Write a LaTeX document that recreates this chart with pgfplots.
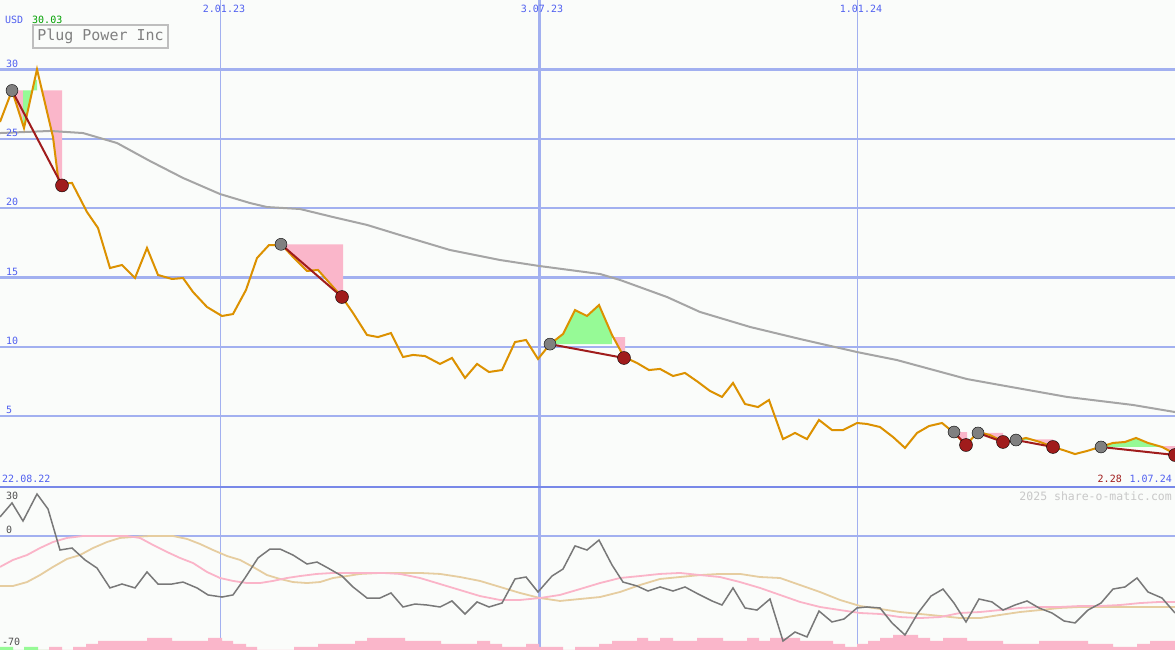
\documentclass[border=0pt]{standalone}
\usepackage{pgfplots}
\pgfplotsset{compat=1.18}
\usepackage{fontspec}
\newfontfamily\mono{DejaVu Sans Mono}
\definecolor{bgc}{RGB}{250,252,250}
\definecolor{gridc}{RGB}{162,176,240}
\definecolor{sepc}{RGB}{120,136,232}
\definecolor{tickc}{RGB}{80,96,240}
\definecolor{usdgreen}{RGB}{0,160,0}
\definecolor{darkred}{RGB}{160,28,28}
\definecolor{wmc}{RGB}{200,200,200}
\definecolor{boxc}{RGB}{190,190,190}
\definecolor{titc}{RGB}{128,128,128}
\definecolor{pricec}{RGB}{220,145,0}
\definecolor{smac}{RGB}{165,165,165}
\definecolor{mkgray}{RGB}{128,128,128}
\definecolor{pinkf}{RGB}{250,182,202}
\definecolor{greenf}{RGB}{150,250,150}
\definecolor{oscgray}{RGB}{120,120,120}
\definecolor{oscpink}{RGB}{250,180,200}
\definecolor{osctan}{RGB}{230,205,160}
\definecolor{lowtxt}{RGB}{80,80,80}
\begin{document}
\begin{tikzpicture}[x=1bp,y=1bp]
\fill[bgc] (0,0) rectangle (1175,650);
% vertical date lines (behind everything)
\draw[gridc, line width=1.2bp] (220.5,0) -- (220.5,650);
\draw[gridc, line width=2.4bp] (539.5,0) -- (539.5,650);
\draw[gridc, line width=1.2bp] (857.5,0) -- (857.5,650);

% ---------- main price panel (axis spans the whole picture; price area is the top 487 px) ----------
\begin{axis}[at={(0,0)}, anchor=south west, width=1175bp, height=650bp, scale only axis,
  xmin=0, xmax=1175, ymin=-11.868, ymax=35.03,
  axis line style={draw=none}, tick style={draw=none},
  xtick=\empty, ytick={5,10,15,20,25,30}, yticklabels={},
  ymajorgrids, grid style={gridc, line width=2.4bp}, clip=true]
% trade fills
\addplot[fill=pinkf, draw=none] coordinates {(12,28.5) (23,25.9) (23,28.5)};
\addplot[fill=greenf, draw=none] coordinates {(23,28.5) (23,25.9) (24,25.79) (34.8,29.26) (37,29.26) (37,28.5)};
\addplot[fill=pinkf, draw=none] coordinates {(42,28.5) (53,25.14) (58,22.26) (60,21.75) (62,21.76) (62,28.5)};
\addplot[fill=pinkf, draw=none] coordinates {(281,17.4) (282,17.35) (293,16.49) (303,15.76) (307,15.48) (318,15.55) (342,13.6) (343,13.55) (343,17.4)};
\addplot[fill=greenf, draw=none] coordinates {(550,10.2) (563,10.93) (575,12.66) (587,12.23) (599,13.02) (612,10.86) (612,10.2)};
\addplot[fill=pinkf, draw=none] coordinates {(613.1,10.71) (625,10.71) (625,9.63) (621.3,9.63)};
\addplot[fill=pinkf, draw=none] coordinates {(954,3.86) (967,3.86) (967,3.35) (960,3.35)};
\addplot[fill=pinkf, draw=none] coordinates {(978,3.79) (1003,3.79) (1003,3.21) (990,3.64) (978,3.86)};
\addplot[fill=greenf, draw=none] coordinates {(1019,3.28) (1026,3.43) (1033,3.28)};
\addplot[fill=pinkf, draw=none] coordinates {(1033,3.32) (1053,3.32) (1053,2.99) (1048,2.99) (1040,3.14)};
\addplot[fill=greenf, draw=none] coordinates {(1101,2.78) (1113,3.07) (1125,3.14) (1136,3.43) (1148,3.07) (1160,2.82) (1162,2.78)};
\addplot[fill=pinkf, draw=none] coordinates {(1158,2.85) (1175,2.85) (1175,2.56) (1168,2.56)};
% moving average
\addplot[smac, line width=2bp] coordinates {
(0,25.43) (50,25.58) (83,25.43) (117,24.71) (150,23.41) (183,22.19) (220,21.03) (250,20.38)
(267,20.09) (300,19.95) (333,19.37) (367,18.80) (400,18.07) (450,16.99) (500,16.27) (539,15.84)
(600,15.26) (620,14.83) (667,13.60) (700,12.52) (750,11.44) (800,10.57) (857,9.63) (897,9.05)
(967,7.68) (1000,7.25) (1067,6.39) (1133,5.81) (1175,5.30)};
% markers
\addplot[only marks, mark=*, mark size=6bp, mark options={fill=mkgray, draw=none}] coordinates {
(12,28.5) (281,17.4) (550,10.2) (954,3.86) (978,3.79) (1016,3.28) (1101,2.78)};
\addplot[only marks, mark=*, mark size=6.5bp, mark options={fill=darkred, draw=none}] coordinates {
(62,21.65) (342,13.6) (624,9.2) (966,2.92) (1003,3.14) (1053,2.78) (1175,2.2)};
% price
\addplot[pricec, line width=2bp] coordinates {
(0,26.23) (12,28.5) (24,25.79) (37,30.03) (53,25.14) (58,22.26) (60,21.75) (72,21.83) (87,19.73)
(98,18.58) (110,15.69) (122,15.91) (135,14.97) (147,17.14) (158,15.19) (172,14.90) (183,14.97)
(193,13.96) (207,12.88) (222,12.23) (233,12.37) (246,14.11) (257,16.41) (269,17.35) (282,17.35)
(293,16.49) (303,15.76) (307,15.48) (318,15.55) (342,13.6) (353,12.45) (367,10.86) (378,10.71)
(391,11.00) (403,9.27) (413,9.42) (425,9.34) (440,8.77) (452,9.20) (465,7.76) (477,8.77)
(489,8.19) (502,8.33) (515,10.35) (526,10.50) (538,9.13) (550,10.2) (563,10.93) (575,12.66)
(587,12.23) (599,13.02) (612,10.86) (624,9.27) (637,8.84) (649,8.33) (660,8.41) (673,7.90)
(685,8.12) (698,7.47) (710,6.82) (722,6.39) (733,7.40) (745,5.88) (758,5.66) (769,6.17)
(783,3.35) (795,3.79) (807,3.35) (819,4.73) (832,4.00) (843,4.00) (857,4.51) (867,4.44)
(880,4.22) (893,3.50) (905,2.71) (917,3.79) (929,4.29) (942,4.51) (953,3.86) (966,2.92)
(978,3.86) (990,3.64) (1002,3.21) (1013,3.21) (1026,3.43) (1040,3.14) (1053,2.78) (1063,2.56)
(1075,2.27) (1087,2.49) (1100,2.78) (1113,3.07) (1125,3.14) (1136,3.43) (1148,3.07) (1162,2.78)
(1175,2.28)};
% trade lines
\addplot[darkred, line width=2bp] coordinates {(12,28.5) (62,21.65)};
\addplot[darkred, line width=2bp] coordinates {(281,17.4) (342,13.6)};
\addplot[darkred, line width=2bp] coordinates {(550,10.2) (624,9.2)};
\addplot[darkred, line width=2bp] coordinates {(954,3.86) (966,2.92)};
\addplot[darkred, line width=2bp] coordinates {(978,3.79) (1003,3.14) (1016,3.28)};
\addplot[darkred, line width=2bp] coordinates {(1016,3.28) (1053,2.78)};
\addplot[darkred, line width=2bp] coordinates {(1101,2.78) (1175,2.2)};
\end{axis}

% ---------- volume bars ----------
\begin{axis}[at={(0,0)}, anchor=south west, width=1175bp, height=163bp, scale only axis,
  xmin=0, xmax=1175, ymin=0, ymax=163, hide axis, clip=true]
\addplot[const plot mark left, fill=greenf, draw=none] coordinates {
(0,3) (13,0) (24,3) (38,0) (50,0)} \closedcycle;
\addplot[const plot mark left, fill=pinkf, draw=none] coordinates {
(38,0) (49,3) (62,0) (73,3) (86,6) (98,9) (147,12) (172,9) (208,12) (222,9) (233,6) (246,3) (257,0)
(294,3) (318,6) (355,9) (367,12) (405,9) (441,6) (477,9) (490,6) (502,3) (526,6) (539,3) (563,0)
(575,3) (599,6) (612,9) (637,12) (648,9) (660,12) (673,9) (697,12) (723,9) (747,12) (759,9) (770,12)
(800,9) (833,6) (845,3) (857,6) (868,9) (880,12) (893,15) (918,12) (930,9) (943,12) (967,9)
(1003,6) (1039,9) (1088,6) (1113,3) (1137,6) (1150,9) (1175,9)} \closedcycle;
\end{axis}

% ---------- oscillator panel ----------
\begin{axis}[at={(0,0)}, anchor=south west, width=1175bp, height=163bp, scale only axis,
  xmin=0, xmax=1175, ymin=-81.43, ymax=35.0,
  axis line style={draw=none}, tick style={draw=none},
  xtick=\empty, ytick={0}, yticklabels={},
  ymajorgrids, grid style={gridc, line width=2.4bp}, clip=true]
\addplot[osctan, line width=1.8bp] coordinates {
(0,-35.7) (13,-35.7) (27,-32.9) (40,-27.9) (53,-22.1) (67,-16.4) (80,-13.6) (93,-8.6) (107,-4.3)
(120,-1.4) (133,-0.7) (150,0) (173,0) (187,-2.1) (200,-5.7) (213,-10.0) (227,-14.3) (240,-17.1)
(253,-22.1) (267,-27.9) (280,-30.7) (293,-32.9) (307,-33.6) (320,-32.9) (333,-30.0) (347,-28.6)
(360,-27.1) (380,-26.4) (400,-26.4) (420,-26.4) (440,-27.1) (460,-29.3) (480,-32.1) (500,-36.4)
(520,-40.7) (540,-44.3) (560,-46.4) (580,-45.0) (600,-43.6) (620,-40.0) (640,-35.0) (660,-30.7)
(680,-29.3) (700,-27.9) (720,-27.1) (740,-27.1) (760,-29.3) (780,-30.0) (800,-35.0) (820,-40.0)
(840,-45.7) (860,-50.0) (880,-52.1) (900,-54.3) (920,-55.7) (940,-57.1) (960,-58.6) (980,-58.6)
(1000,-56.4) (1020,-54.3) (1040,-52.9) (1060,-51.4) (1080,-50.7) (1100,-50.7) (1120,-50.7)
(1140,-50.7) (1175,-50.7)};
\addplot[oscpink, line width=1.8bp] coordinates {
(0,-22.1) (13,-17.1) (27,-13.6) (40,-8.6) (53,-4.3) (67,-1.4) (83,0) (100,0) (127,0) (140,-1.4)
(153,-6.4) (167,-11.4) (180,-15.7) (193,-19.3) (207,-25.7) (220,-30.0) (233,-32.1) (247,-33.6)
(260,-33.6) (273,-32.1) (287,-30.0) (300,-28.6) (317,-27.1) (333,-26.4) (360,-26.4) (383,-26.4)
(400,-27.1) (420,-30.0) (440,-34.3) (460,-38.6) (480,-42.9) (500,-45.7) (520,-45.7) (540,-44.3)
(560,-42.1) (580,-37.9) (600,-33.6) (620,-30.0) (640,-28.6) (660,-27.1) (680,-26.4) (700,-27.9)
(720,-29.3) (740,-32.9) (760,-37.1) (780,-42.1) (800,-47.1) (820,-50.7) (840,-52.9) (860,-55.0)
(880,-55.7) (900,-57.9) (920,-58.6) (940,-57.9) (960,-55.0) (980,-54.3) (1000,-52.9) (1020,-51.4)
(1040,-50.7) (1060,-50.7) (1080,-50.0) (1100,-50.0) (1120,-49.3) (1140,-47.9) (1160,-47.1) (1175,-47.1)};
\addplot[oscgray, line width=1.5bp] coordinates {
(0,13.6) (12,23.6) (23,10.7) (37,30.0) (48,19.3) (60,-10.0) (72,-8.6) (85,-17.1) (97,-22.9)
(110,-37.1) (122,-34.3) (135,-37.1) (147,-25.7) (158,-34.3) (172,-34.3) (183,-32.9) (197,-37.1)
(208,-42.1) (222,-43.6) (233,-42.1) (245,-30.0) (258,-15.7) (270,-9.3) (280,-9.3) (293,-13.6)
(307,-20.0) (317,-18.6) (328,-22.9) (342,-28.6) (353,-36.4) (367,-44.3) (380,-44.3) (391,-40.7)
(403,-50.7) (415,-48.6) (427,-49.3) (440,-50.7) (452,-46.4) (465,-55.7) (477,-47.1) (489,-50.7)
(502,-47.9) (515,-30.7) (526,-29.3) (538,-40.0) (552,-28.6) (563,-23.6) (575,-7.1) (587,-10.0)
(599,-2.9) (612,-20.7) (623,-32.9) (637,-35.7) (648,-39.3) (660,-36.4) (673,-39.3) (685,-36.4)
(698,-41.4) (712,-46.4) (722,-49.3) (733,-37.1) (745,-51.4) (757,-52.9) (770,-45.0) (783,-75.0)
(795,-68.6) (807,-72.1) (819,-53.6) (832,-61.4) (844,-59.3) (857,-51.4) (867,-50.7) (880,-51.4)
(892,-62.1) (905,-70.7) (918,-55.0) (931,-42.9) (943,-37.9) (954,-47.9) (966,-61.4) (979,-45.0)
(992,-47.1) (1003,-52.9) (1015,-49.3) (1027,-46.4) (1039,-51.4) (1052,-55.0) (1064,-60.7)
(1075,-62.1) (1088,-52.9) (1101,-47.9) (1113,-37.9) (1125,-36.4) (1137,-30.0) (1148,-40.0)
(1162,-44.3) (1175,-55.0)};
\end{axis}

% separator between panels
\draw[sepc, line width=2.6bp] (0,163) -- (1175,163);

% ---------- texts ----------
\begin{scope}[every node/.style={inner sep=0pt, font=\mono\fontsize{10bp}{12bp}\selectfont}]
\node[anchor=west, text=tickc] at (5,630) {USD};
\node[anchor=west, text=usdgreen] at (32,630) {30.03};
\node[text=tickc] at (224,641) {2.01.23};
\node[text=tickc] at (542,641) {3.07.23};
\node[text=tickc] at (861,641) {1.01.24};
\node[anchor=west, text=tickc] at (6,586) {30};
\node[anchor=west, text=tickc] at (6,517) {25};
\node[anchor=west, text=tickc] at (6,448) {20};
\node[anchor=west, text=tickc] at (6,378) {15};
\node[anchor=west, text=tickc] at (6,309) {10};
\node[anchor=west, text=tickc] at (6,240) {5};
\node[anchor=west, text=tickc] at (2,171) {22.08.22};
\node[anchor=east, text=tickc] at (1172,171) {1.07.24};
\node[anchor=east, text=darkred] at (1122,171) {2.28};
\node[anchor=west, text=lowtxt] at (6,154) {30};
\node[anchor=west, text=lowtxt] at (6,120) {0};
\node[anchor=west, text=lowtxt] at (2,8) {-70};
\node[anchor=east, text=wmc, font=\mono\fontsize{11.5bp}{13bp}\selectfont] at (1172,154) {2025 share-o-matic.com};
\node[draw=boxc, line width=2bp, fill=bgc, minimum width=135bp, minimum height=23bp, text=titc,
  font=\mono\fontsize{15bp}{17bp}\selectfont] at (100.5,613.5) {Plug Power Inc};
\end{scope}
\pgfresetboundingbox
\useasboundingbox (0,0) rectangle (1175,650);
\end{tikzpicture}
\end{document}
